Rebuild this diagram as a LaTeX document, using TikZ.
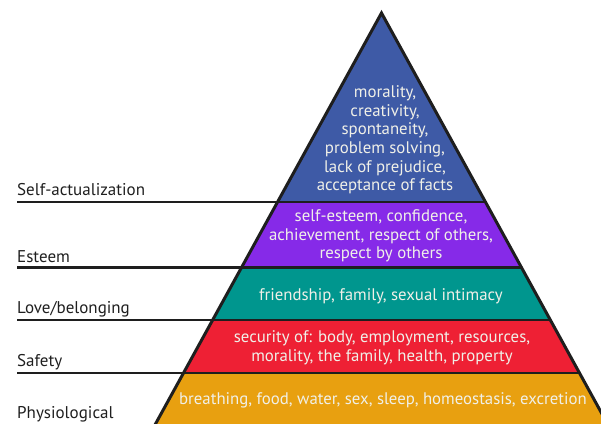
\documentclass[tikz,border=0pt]{standalone}
\usepackage{fontspec}
\setmainfont{PT Sans}
\usetikzlibrary{calc}
\definecolor{cblue}{RGB}{62,90,166}
\definecolor{cpurple}{RGB}{134,42,232}
\definecolor{cteal}{RGB}{0,150,142}
\definecolor{cred}{RGB}{238,32,52}
\definecolor{corange}{RGB}{232,160,16}
\definecolor{cline}{RGB}{30,30,30}
\definecolor{ctext}{RGB}{240,240,232}
\begin{document}
\begin{tikzpicture}[x=1pt,y=-1pt,
  lvltext/.style={text=ctext, align=center, font=\fontsize{16.8}{18.6}\selectfont, inner sep=0pt},
  lbl/.style={anchor=base west, text=black!88, font=\fontsize{17}{20}\selectfont, inner sep=0pt},
  divider/.style={line width=2.2pt, draw=cline},
  outline/.style={line width=3pt, draw=cline, line join=miter},
  ]
\useasboundingbox (0,0) rectangle (601,423);
% pyramid edge points
\coordinate (apex) at (381.5,13);
\coordinate (L1) at (277.55,202);   \coordinate (R1) at (485.45,202);
\coordinate (L2) at (241.5,267.5);  \coordinate (R2) at (521.5,267.5);
\coordinate (L3) at (212.65,320);   \coordinate (R3) at (550.35,320);
\coordinate (L4) at (183.5,373);    \coordinate (R4) at (579.5,373);
\coordinate (L5) at (152.15,430);   \coordinate (R5) at (610.85,430);
% label line starts
\coordinate (S1) at (17,202);
\coordinate (S2) at (17,267.5);
\coordinate (S3) at (17,320);
\coordinate (S4) at (17,373);
% bands
\fill[cblue] (apex) -- (L1) -- (R1) -- cycle;
\fill[cpurple] (L1) -- (L2) -- (R2) -- (R1) -- cycle;
\fill[cteal] (L2) -- (L3) -- (R3) -- (R2) -- cycle;
\fill[cred] (L3) -- (L4) -- (R4) -- (R3) -- cycle;
\fill[corange] (L4) -- (L5) -- (R5) -- (R4) -- cycle;
% dividers with label lines
\draw[divider] (S1) -- (L1) -- (R1);
\draw[divider] (S2) -- (L2) -- (R2);
\draw[divider] (S3) -- (L3) -- (R3);
\draw[divider] (S4) -- (L4) -- (R4);
% outline
\draw[outline] (L5) -- (apex) -- (R5);
% level texts
\node[lvltext] (t1) at (385,140) {morality,\\creativity,\\spontaneity,\\problem solving,\\lack of prejudice,\\acceptance of facts};
\node[lvltext] (t2) at (381,236) {self-esteem, confidence,\\achievement, respect of others,\\respect by others};
\node[lvltext] (t3) at (381,296) {friendship, family, sexual intimacy};
\node[lvltext] (t4) at (382,347.5) {security of: body, employment, resources,\\morality, the family, health, property};
\node[lvltext] (t5) at (383,400) {breathing, food, water, sex, sleep, homeostasis, excretion};
% labels
\node[lbl] (n1) at (17,195) {Self-actualization};
\node[lbl] (n2) at (17,262) {Esteem};
\node[lbl] (n3) at (17,313.3) {Love/belonging};
\node[lbl] (n4) at (17,366.7) {Safety};
\node[lbl] (n5) at (17,418.5) {Physiological};
\end{tikzpicture}
\end{document}
